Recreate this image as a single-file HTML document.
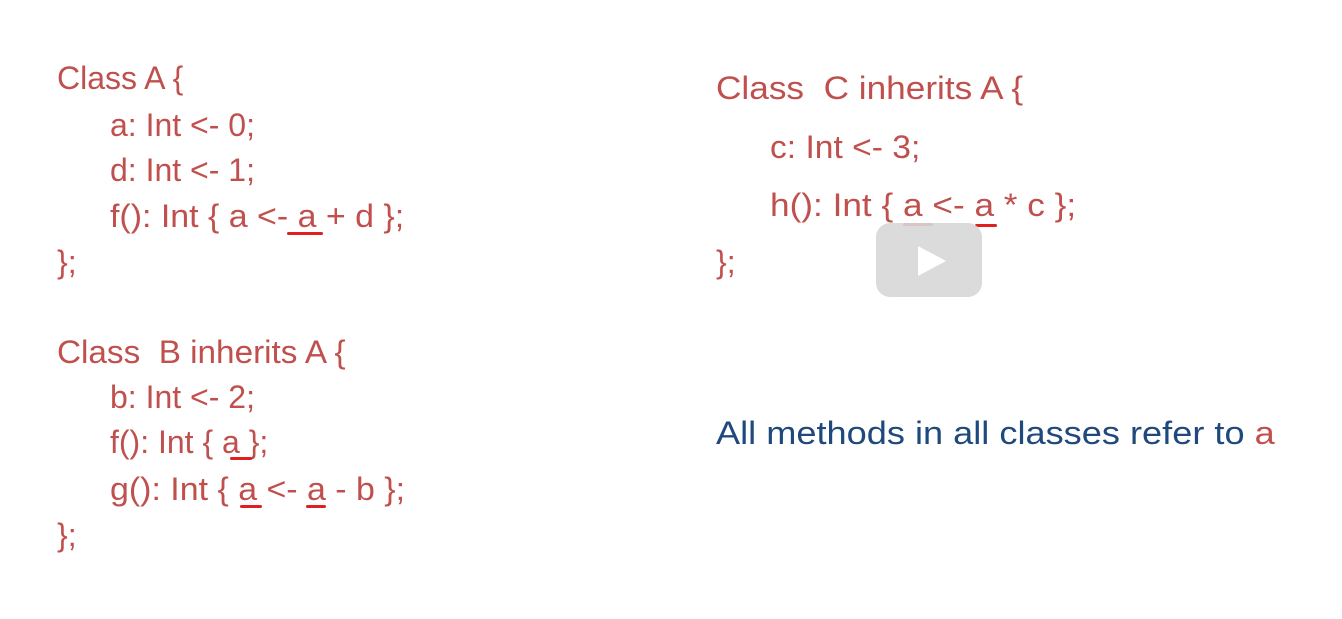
<!DOCTYPE html>
<html><head><meta charset="utf-8"><style>
body{margin:0;width:1342px;height:619px;background:#fff;position:relative;overflow:hidden;font-family:"Liberation Sans",sans-serif;}
.t{position:absolute;font-size:32px;line-height:40px;color:#c0504d;white-space:pre;transform-origin:left center;}
.b{color:#1f497d;transform:scaleX(1.13)}
.u{position:absolute;height:3px;background:#e02020;border-radius:2px}
</style></head><body>
<div class="t" style="left:57px;top:58px">Class A {</div>
<div class="t" style="left:110px;top:105px">a: Int &lt;- 0;</div>
<div class="t" style="left:110px;top:150px">d: Int &lt;- 1;</div>
<div class="t" style="left:110px;top:196px;transform:scaleX(1.06)">f(): Int { a &lt;- a + d };</div>
<div class="t" style="left:57px;top:242px">};</div>

<div class="t" style="left:57px;top:332px;transform:scaleX(1.04)">Class  B inherits A {</div>
<div class="t" style="left:110px;top:377px">b: Int &lt;- 2;</div>
<div class="t" style="left:110px;top:422px">f(): Int { a };</div>
<div class="t" style="left:110px;top:469px;transform:scaleX(1.06)">g(): Int { a &lt;- a - b };</div>
<div class="t" style="left:57px;top:515px">};</div>

<div class="t" style="left:716px;top:68px;transform:scaleX(1.1)">Class  C inherits A {</div>
<div class="t" style="left:770px;top:127px;transform:scaleX(1.05)">c: Int &lt;- 3;</div>
<div class="t" style="left:770px;top:185px;transform:scaleX(1.1)">h(): Int { a &lt;- a * c };</div>
<div class="t" style="left:716px;top:242px">};</div>

<div class="t b" style="left:716px;top:413px">All methods in all classes refer to <span style="color:#c0504d">a</span></div>

<div class="u" style="left:287px;top:232px;width:36px"></div>
<div class="u" style="left:230px;top:457px;width:22px"></div>
<div class="u" style="left:240px;top:505px;width:22px"></div>
<div class="u" style="left:306px;top:505px;width:20px"></div>
<div class="u" style="left:903px;top:223px;width:30px"></div>
<div class="u" style="left:975px;top:224px;width:22px"></div>

<div style="position:absolute;left:876px;top:223px;width:106px;height:74px;border-radius:14px;background:rgba(215,215,215,0.9)"></div>
<div style="position:absolute;left:918px;top:246px;width:0;height:0;border-top:15px solid transparent;border-bottom:15px solid transparent;border-left:28px solid #fff"></div>
</body></html>
